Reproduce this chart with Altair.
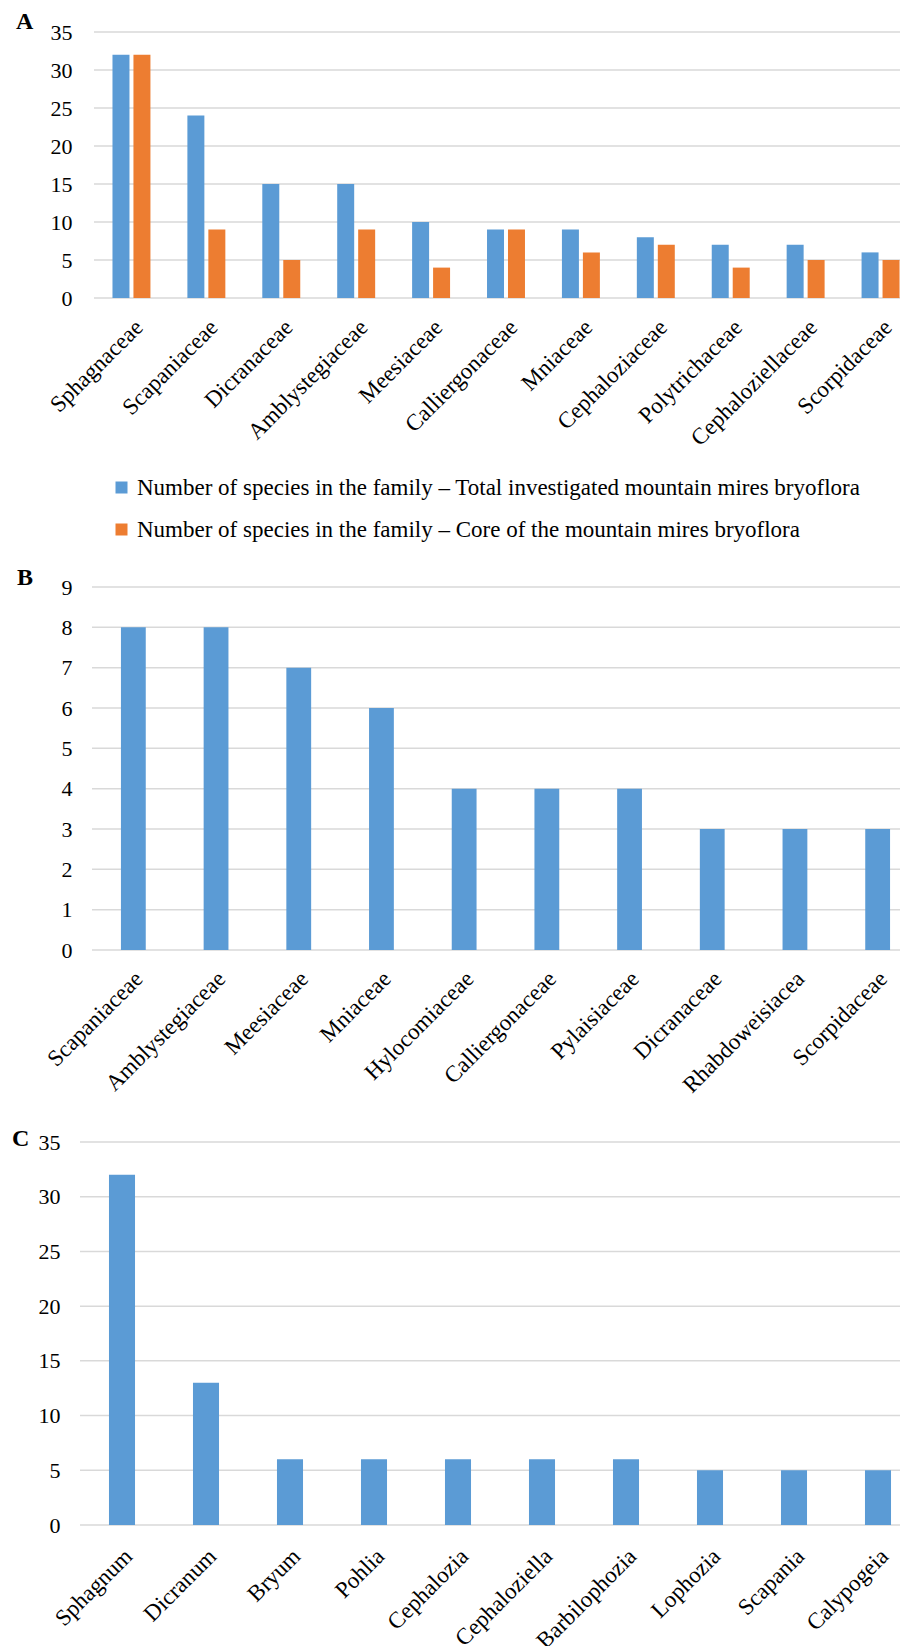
import altair as alt
import pandas as pd

# ---------------- data ----------------
families_a = ["Sphagnaceae", "Scapaniaceae", "Dicranaceae", "Amblystegiaceae", "Meesiaceae",
              "Calliergonaceae", "Mniaceae", "Cephaloziaceae", "Polytrichaceae",
              "Cephaloziellaceae", "Scorpidaceae"]
total_a = [32, 24, 15, 15, 10, 9, 9, 8, 7, 7, 6]
core_a = [32, 9, 5, 9, 4, 9, 6, 7, 4, 5, 5]
series_names = [
    "Number of species in the family – Total investigated mountain mires bryoflora",
    "Number of species in the family – Core of the mountain mires bryoflora",
]

families_b = ["Scapaniaceae", "Amblystegiaceae", "Meesiaceae", "Mniaceae", "Hylocomiaceae",
              "Calliergonaceae", "Pylaisiaceae", "Dicranaceae", "Rhabdoweisiacea", "Scorpidaceae"]
values_b = [8, 8, 7, 6, 4, 4, 4, 3, 3, 3]

genera_c = ["Sphagnum", "Dicranum", "Bryum", "Pohlia", "Cephalozia", "Cephaloziella",
            "Barbilophozia", "Lophozia", "Scapania", "Calypogeia"]
values_c = [32, 13, 6, 6, 6, 6, 6, 5, 5, 5]

ticks_a = [0, 5, 10, 15, 20, 25, 30, 35]
ticks_b = [0, 1, 2, 3, 4, 5, 6, 7, 8, 9]
ticks_c = [0, 5, 10, 15, 20, 25, 30, 35]

# ---------------- style ----------------
FONT = "Times New Roman, Liberation Serif, serif"
BLUE = "#5B9BD5"
ORANGE = "#ED7D31"
GRID = "#D9D9D9"
W = 820


def yaxis(vals, size, pad):
    return alt.Axis(values=vals, title=None, domain=False, ticks=False, grid=False,
                    labelFont=FONT, labelFontSize=size, labelColor="black", labelPadding=pad)


def gridrules(vals, yscale, yax, x0):
    df = pd.DataFrame({"v": vals})
    return alt.Chart(df).mark_rule(color=GRID, strokeWidth=1.5).encode(
        y=alt.Y("v:Q", scale=yscale, axis=yax),
        x=alt.value(x0), x2=alt.value(W))


def xlabels(df, field, order, xscale, ypos, size, shift):
    d = shift * 0.7071
    return alt.Chart(df).mark_text(
        font=FONT, fontSize=size, color="black", angle=315, align="right",
        baseline="top", dx=d, dy=d).encode(
        x=alt.X(f"{field}:N", sort=order, scale=xscale, axis=None),
        y=alt.value(ypos), text=f"{field}:N")


def letter(t, x, y):
    return alt.Chart(pd.DataFrame({"t": [t]})).mark_text(
        font=FONT, fontSize=24, fontWeight="bold", align="left",
        baseline="alphabetic", color="black").encode(
        x=alt.value(x), y=alt.value(y), text="t:N")


# ---------------- panel A ----------------
HA = 266
rows = []
for f, t, c in zip(families_a, total_a, core_a):
    rows.append({"family": f, "series": series_names[0], "n": t})
    rows.append({"family": f, "series": series_names[1], "n": c})
df_a = pd.DataFrame(rows)
ys_a = alt.Scale(domain=[0, 35], nice=False, zero=True)
yax_a = yaxis(ticks_a, 22, 8)
xs_a = alt.Scale(range=[14, 838], paddingInner=0.4933, paddingOuter=0.2467)

bars_a = alt.Chart(df_a).mark_bar().encode(
    x=alt.X("family:N", sort=families_a, scale=xs_a, axis=None),
    xOffset=alt.XOffset("series:N", sort=series_names,
                        scale=alt.Scale(paddingInner=0.19, paddingOuter=0)),
    y=alt.Y("n:Q", scale=ys_a, axis=yax_a),
    color=alt.Color("series:N", sort=series_names,
                    scale=alt.Scale(domain=series_names, range=[BLUE, ORANGE]),
                    legend=alt.Legend(orient="none", legendX=30, legendY=444,
                                      direction="vertical", title=None,
                                      symbolType="square", symbolSize=144,
                                      symbolStrokeWidth=0, labelFont=FONT,
                                      labelFontSize=23, labelColor="black",
                                      rowPadding=18, padding=0, labelOffset=4,
                                      labelLimit=1000)),
)
lab_a = xlabels(pd.DataFrame({"family": families_a}), "family", families_a, xs_a,
                HA + 18, 23, 0)
chart_a = alt.layer(gridrules(ticks_a, ys_a, yax_a, 14), bars_a, lab_a,
                    letter("A", -64, -3)).properties(width=W, height=HA)

# ---------------- panel B ----------------
HB = 652
df_b = pd.DataFrame({"family": families_b, "n": values_b})
ys_b = alt.Scale(domain=[0, 9], nice=False, range=[HB, HB - 363])
yax_b = yaxis(ticks_b, 22, 8)
xs_b = alt.Scale(range=[12, 839], paddingInner=0.7, paddingOuter=0.35)
bars_b = alt.Chart(df_b).mark_bar(color=BLUE).encode(
    x=alt.X("family:N", sort=families_b, scale=xs_b, axis=None),
    y=alt.Y("n:Q", scale=ys_b, axis=yax_b),
)
lab_b = xlabels(df_b, "family", families_b, xs_b, HB + 17.5, 23, -2)
chart_b = alt.layer(gridrules(ticks_b, ys_b, yax_b, 12), bars_b, lab_b,
                    letter("B", -63, 287)).properties(width=W, height=HB)

# ---------------- panel C ----------------
HC = 575
df_c = pd.DataFrame({"genus": genera_c, "n": values_c})
ys_c = alt.Scale(domain=[0, 35], nice=False, range=[HC, HC - 383])
yax_c = yaxis(ticks_c, 22, 20)
xs_c = alt.Scale(range=[0, 840], paddingInner=0.69, paddingOuter=0.345)
bars_c = alt.Chart(df_c).mark_bar(color=BLUE).encode(
    x=alt.X("genus:N", sort=genera_c, scale=xs_c, axis=None),
    y=alt.Y("n:Q", scale=ys_c, axis=yax_c),
)
lab_c = xlabels(df_c, "genus", genera_c, xs_c, HC + 20, 23, -1)
chart_c = alt.layer(gridrules(ticks_c, ys_c, yax_c, 0), bars_c, lab_c,
                    letter("C", -68, 196)).properties(width=W, height=HC)

chart = alt.vconcat(chart_a, chart_b, chart_c, spacing=0, bounds="flush").resolve_legend(
    color="independent"
).properties(
    padding={"left": 4, "top": 2, "right": 0, "bottom": 0},
    background="white",
).configure_view(strokeWidth=0)

chart.save("out.html", embed_options={"renderer": "svg", "actions": False})
